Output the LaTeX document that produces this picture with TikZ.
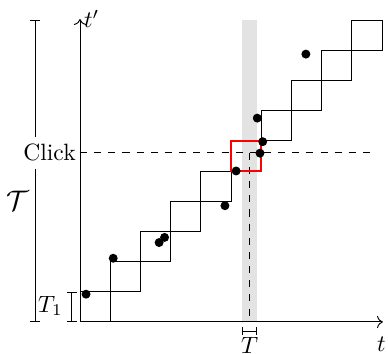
\documentclass[tikz,border=0pt]{standalone}
\usetikzlibrary{arrows.meta}
\begin{document}
\begin{tikzpicture}[x=0.45cm,y=0.45cm,
  stair/.style={line width=0.4pt},
  guide/.style={dashed},
  dotnode/.style={circle,fill=black,inner sep=0pt,minimum size=3.8pt},
  bracketbig/.style={{Bar[width=4.4pt]}-{Bar[width=4.4pt]}},
  bracketsmall/.style={{Bar[width=3pt]}-{Bar[width=3pt]}},
  axisline/.style={->},
  redbox/.style={draw=red,line width=0.85pt}]
\useasboundingbox (-2.649,-1.060) rectangle (10.199,10.662);
% gray bar
\fill[black!11] (5.37,0) rectangle (5.87,10);
% coordinates
\coordinate (O) at (0,0);
\coordinate (xend) at (10.03,0);
\coordinate (yend) at (0,10.03);
\coordinate (clk) at (0,5.6);
\coordinate (cross) at (5.62,5.6);
\coordinate (dashend) at (9.8,5.6);
\coordinate (foot) at (5.62,0);
\coordinate (tauA) at (-1.49,0);
\coordinate (tauB) at (-1.49,10);
\coordinate (tA) at (-0.27,0);
\coordinate (tB) at (-0.27,1);
\coordinate (TA) at (5.37,-0.30);
\coordinate (TB) at (5.87,-0.30);
% staircases
\draw[stair] (0,1) -- (2,1) -- (2,3) -- (4,3) -- (4,5) -- (6,5) -- (6,7) -- (8,7) -- (8,9) -- (10,9) -- (10,10);
\draw[stair] (1,0) -- (1,2) -- (3,2) -- (3,4) -- (5,4) -- (5,6) -- (7,6) -- (7,8) -- (9,8) -- (9,10) -- (10,10);
% dashed guides
\draw[guide] (clk) -- (dashend);
\draw[guide] (cross) -- (foot);
% red box
\draw[redbox] (5,5) rectangle (6,6);
% brackets
\draw[bracketbig] (tauA) -- (tauB);
\draw[bracketbig] (tA) -- (tB);
\draw[bracketsmall] (TA) -- (TB);
% labels
\node[fill=white,inner xsep=1pt,inner ysep=3pt] (click) at (-1.01,5.6) {Click};
\node (tau) at (-2.07,4.0) {\large$\mathcal{T}$};
\node (T1) at (-0.98,0.53) {$T_1$};
\node (Tlab) at (5.62,-0.79) {$T$};
% axes
\draw[axisline] (O) -- (xend);
\draw[axisline] (O) -- (yend);
\node[anchor=west,inner sep=1.5pt] (tp) at (yend) {$t'$};
\node (tl) at (9.98,-0.73) {$t$};
% dots
\node[dotnode] (d1) at (0.20,0.92) {};
\node[dotnode] (d2) at (1.10,2.11) {};
\node[dotnode] (d3) at (2.62,2.63) {};
\node[dotnode] (d4) at (2.80,2.80) {};
\node[dotnode] (d5) at (4.80,3.85) {};
\node[dotnode] (d6) at (5.17,5.00) {};
\node[dotnode] (d7) at (5.96,5.59) {};
\node[dotnode] (d8) at (6.05,5.97) {};
\node[dotnode] (d9) at (5.87,6.75) {};
\node[dotnode] (d10) at (7.48,8.87) {};
\end{tikzpicture}
\end{document}
